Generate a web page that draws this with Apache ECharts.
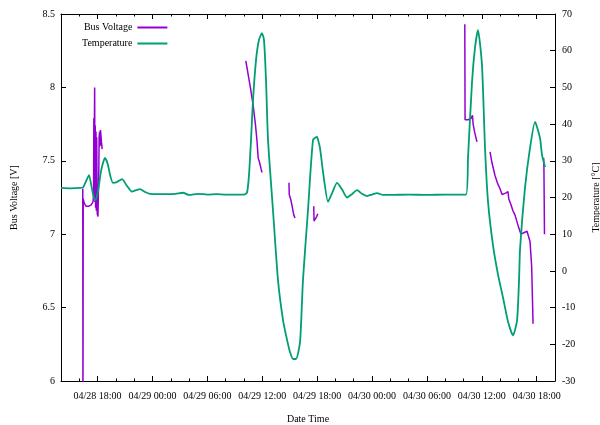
<!DOCTYPE html>
<html>
<head>
<meta charset="utf-8">
<script src="https://cdn.jsdelivr.net/npm/echarts@6/dist/echarts.min.js"></script>
<style>html,body{margin:0;padding:0;background:#fff}#c{width:600px;height:425px}</style>
</head>
<body>
<div id="c"></div>
<script>
// hours since 04/28 00:00
const voltTimes = [
  16.38,16.40,16.43,16.55,16.75,17.00,17.30,17.50,17.56,17.59,17.62,17.65,17.68,17.71,17.74,17.78,17.82,17.86,17.90,17.96,18.04,18.09,18.13,18.17,18.22,18.27,18.32,18.38,18.43,18.50,18.6,
  34.2,34.4,34.7,35.0,35.25,35.42,35.55,35.7,35.85,35.97,36.1,
  38.92,38.95,39.1,39.3,39.45,39.58,39.7,
  41.63,41.66,41.8,41.95,42.07,42.2,
  58.14,58.17,58.5,58.85,58.98,59.05,59.2,59.35,59.47,59.6,
  60.9,61.1,61.44,61.7,61.99,62.21,62.6,62.86,62.95,63.19,63.4,63.63,63.96,64.28,64.6,64.94,65.05,65.27,65.45,65.52,65.6,65.7,
  66.76,66.79,66.82,66.85
];
const voltValues = [
  7.31,5.80,7.24,7.21,7.19,7.19,7.20,7.22,7.26,7.79,7.30,7.76,8.00,7.22,7.74,7.18,7.70,7.16,7.66,7.14,7.12,7.13,7.42,7.66,7.70,7.60,7.71,7.72,7.62,7.58,null,
  8.18,8.11,8.00,7.88,7.75,7.64,7.52,7.49,7.45,7.42,null,
  7.35,7.27,7.24,7.18,7.13,7.11,null,
  7.19,7.09,7.10,7.12,7.14,null,
  8.43,7.78,7.78,7.79,7.81,7.75,7.70,7.66,7.63,null,
  7.56,7.49,7.40,7.35,7.31,7.27,7.28,7.29,7.24,7.20,7.16,7.13,7.06,7.00,7.01,7.02,7.03,6.95,6.78,6.60,6.39,null,
  7.52,7.45,7.46,7.00
];
const tempTimes = [
  14.0,15.0,16.0,16.4,16.75,17.06,17.3,17.6,17.8,18.05,18.4,18.81,19.1,19.4,19.68,20.1,20.67,21.2,21.76,22.2,22.64,23.2,23.73,24.5,25.5,26.5,27.34,28.0,29.0,30.0,31.0,32.0,33.0,34.0,
  34.33,34.55,34.77,34.99,35.32,35.64,35.97,36.19,36.41,36.63,37.17,37.72,38.27,38.71,39.03,39.36,39.69,40.13,40.45,41.0,41.55,41.99,42.1,42.31,42.64,43.19,43.6,44.17,44.7,45.26,45.8,46.36,46.9,47.45,48.0,48.54,49.2,50.0,52.0,54.0,56.0,58.27,
  58.49,58.93,59.26,59.58,60.02,60.35,60.68,61.22,61.77,62.32,62.86,63.41,63.85,64.07,64.18,64.72,65.27,65.82,66.36,66.58,66.91
];
const tempValues = [
  22.6,22.5,22.6,22.7,24.5,26.1,23.5,19.8,19.3,21.8,27.5,30.8,29.2,25.8,24.0,24.2,25.0,23.2,21.6,22.0,22.3,21.5,21.0,20.9,20.9,21.0,21.3,20.7,21.0,20.8,20.9,20.8,20.8,20.8,
  21.3,26.1,35.7,46.6,57.5,62.9,64.8,62.9,52.0,35.7,16.6,-2.5,-13.4,-18.8,-22.1,-24.0,-24.0,-19.4,-2.5,16.6,35.7,36.5,35.7,33.5,27.0,18.8,21.0,24.0,22.3,20.0,20.9,22.0,21.0,20.4,20.8,21.2,20.7,20.7,20.8,20.7,20.8,20.8,
  30.8,51.5,60.9,65.6,56.0,33.5,18.8,7.0,-1.0,-7.3,-13.8,-17.6,-13.5,-2.5,6.0,22.6,33.5,40.6,36.2,31.6,28.3
];
const majorTicks = [18,24,30,36,42,48,54,60,66];
const minorTicks = [16,20,22,26,28,32,34,38,40,44,46,50,52,56,58,62,64,68];

function fmt(h){
  const d = 28 + Math.floor(h/24);
  const hh = Math.round(h % 24);
  return '04/' + d + ' ' + (hh<10?'0':'') + hh + ':00';
}
const FONT = 'Liberation Serif';
const voltData = voltTimes.map((t,i)=>[t, voltValues[i]]);
const tempData = tempTimes.map((t,i)=>[t, tempValues[i]]);
const axLine = {show:true, onZero:false, lineStyle:{color:'#000', width:1}};
function xAx(pos, ticks, len, labels, line){
  return {
    type:'value', position:pos, min:14, max:68, gridIndex:0,
    axisLine: line ? axLine : {show:false, onZero:false},
    axisTick:{show:true, inside:true, length:len, customValues:ticks, lineStyle:{color:'#000'}},
    axisLabel: labels ? {show:true, customValues:majorTicks, formatter:fmt, color:'#000', fontFamily:FONT, fontSize:10, margin:10} : {show:false},
    splitLine:{show:false}
  };
}
const bottomMain = xAx('bottom', majorTicks, 5, true, true);
bottomMain.name = 'Date Time';
bottomMain.nameLocation = 'middle';
bottomMain.nameGap = 33;
bottomMain.nameTextStyle = {color:'#000', fontFamily:FONT, fontSize:10};

const option = {
  animation:false,
  backgroundColor:'#fff',
  grid:{left:61, right:45, top:14, bottom:44, containLabel:false, outerBoundsMode:'none'},
  legend:{
    orient:'vertical', left:77, top:17, align:'right', itemGap:5,
    itemWidth:30, itemHeight:2, icon:'rect',
    textStyle:{color:'#000', fontFamily:FONT, fontSize:10, lineHeight:11},
    data:['Bus Voltage','Temperature']
  },
  xAxis:[
    bottomMain,
    xAx('bottom', minorTicks, 2.5, false, false),
    xAx('top', majorTicks, 5, false, true),
    xAx('top', minorTicks, 2.5, false, false)
  ],
  yAxis:[
    {type:'value', position:'left', min:6, max:8.5, interval:0.5,
     name:'Bus Voltage [V]', nameLocation:'middle', nameGap:42, nameRotate:90,
     nameTextStyle:{color:'#000', fontFamily:FONT, fontSize:10},
     axisLine:axLine,
     axisTick:{show:true, inside:true, length:5, lineStyle:{color:'#000'}},
     axisLabel:{color:'#000', fontFamily:FONT, fontSize:10, margin:6},
     splitLine:{show:false}},
    {type:'value', position:'right', min:-30, max:70, interval:10,
     name:'Temperature [°C]', nameLocation:'middle', nameGap:36, nameRotate:90,
     nameTextStyle:{color:'#000', fontFamily:FONT, fontSize:10},
     axisLine:axLine,
     axisTick:{show:true, inside:true, length:5, lineStyle:{color:'#000'}},
     axisLabel:{color:'#000', fontFamily:FONT, fontSize:10, margin:7},
     splitLine:{show:false}}
  ],
  series:[
    {name:'Bus Voltage', type:'line', xAxisIndex:0, yAxisIndex:0, data:voltData,
     showSymbol:false, symbol:'none', connectNulls:false, clip:true,
     itemStyle:{color:'#9400d3'}, lineStyle:{color:'#9400d3', width:1.5}},
    {name:'Temperature', type:'line', xAxisIndex:0, yAxisIndex:1, data:tempData,
     showSymbol:false, symbol:'none', clip:true, smooth:0.2,
     itemStyle:{color:'#009e73'}, lineStyle:{color:'#009e73', width:1.8}}
  ]
};
const chart = echarts.init(document.getElementById('c'), null, {renderer:'canvas'});
chart.setOption(option);
</script>
</body>
</html>
